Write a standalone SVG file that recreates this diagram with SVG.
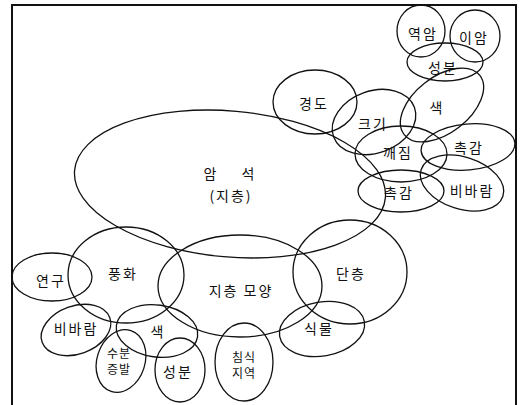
<svg xmlns="http://www.w3.org/2000/svg" width="523" height="405" viewBox="0 0 523 405">
<style>
.n{fill:none;stroke:#111;stroke-width:1.3}
.t{font-family:"Noto Sans CJK KR","Noto Sans",sans-serif;font-size:14px;fill:#111;text-anchor:middle;dominant-baseline:central;letter-spacing:2px}
.s{font-size:12px;letter-spacing:1px}
</style>
<rect width="523" height="405" fill="#fff"/>
<path d="M12,405 V5 H516 V405" fill="none" stroke="#111" stroke-width="2"/>
<g id="connectors"></g>
<g id="rock"><ellipse class="n" cx="230" cy="184" rx="156" ry="73" transform="rotate(5 230 184)"/><text class="t" x="211" y="173">암</text><text class="t" x="249" y="173">석</text><text class="t" x="231" y="195">(지층)</text></g>
<g id="hardness"><ellipse class="n" cx="315" cy="102" rx="42" ry="32"/><text class="t" x="314" y="103">경도</text></g>
<g id="size"><ellipse class="n" cx="374" cy="122" rx="43" ry="31" transform="rotate(-20 374 122)"/><text class="t" x="373" y="123">크기</text></g>
<g id="color1"><ellipse class="n" cx="442" cy="105" rx="48" ry="28" transform="rotate(-38 442 105)"/><text class="t" x="437" y="107">색</text></g>
<g id="comp1"><ellipse class="n" cx="445" cy="62" rx="38" ry="19"/><text class="t" x="443" y="67">성분</text></g>
<g id="conglomerate"><ellipse class="n" cx="421" cy="31" rx="24" ry="26"/><text class="t" x="423" y="33">역암</text></g>
<g id="mudstone"><ellipse class="n" cx="475" cy="36" rx="25" ry="26"/><text class="t" x="474" y="37">이암</text></g>
<g id="fracture"><ellipse class="n" cx="401" cy="154" rx="46" ry="28"/><text class="t" x="398" y="152">깨짐</text></g>
<g id="touch1"><ellipse class="n" cx="468" cy="147" rx="47" ry="23" transform="rotate(-5 468 147)"/><text class="t" x="469" y="147">촉감</text></g>
<g id="wind1"><ellipse class="n" cx="462" cy="183" rx="43" ry="26" transform="rotate(18 462 183)"/><text class="t" x="472" y="190">비바람</text></g>
<g id="touch2"><ellipse class="n" cx="401" cy="191" rx="43" ry="21"/><text class="t" x="399" y="192">촉감</text></g>
<g id="weathering"><ellipse class="n" cx="126" cy="275" rx="58" ry="48"/><text class="t" x="123" y="273">풍화</text></g>
<g id="strata"><ellipse class="n" cx="240" cy="286" rx="82" ry="51"/><text class="t" x="241" y="290">지층 모양</text></g>
<g id="fault"><ellipse class="n" cx="350" cy="272" rx="57" ry="52"/><text class="t" x="351" y="273">단층</text></g>
<g id="plant"><ellipse class="n" cx="322" cy="329" rx="43" ry="27" transform="rotate(-10 322 329)"/><text class="t" x="319" y="328">식물</text></g>
<g id="study"><ellipse class="n" cx="52" cy="277" rx="40" ry="24"/><text class="t" x="51" y="280">연구</text></g>
<g id="wind2"><ellipse class="n" cx="76" cy="330" rx="36" ry="24" transform="rotate(-20 76 330)"/><text class="t" x="76" y="328">비바람</text></g>
<g id="color2"><ellipse class="n" cx="157" cy="331" rx="41" ry="26" transform="rotate(8 157 331)"/><text class="t" x="158" y="331">색</text></g>
<g id="evap"><ellipse class="n" cx="121" cy="361" rx="24" ry="32" transform="rotate(18 121 361)"/><text class="t s" x="119" y="352">수분</text><text class="t s" x="119" y="368">증발</text></g>
<g id="comp2"><ellipse class="n" cx="180" cy="370" rx="25" ry="32"/><text class="t" x="178" y="371">성분</text></g>
<g id="erosion"><ellipse class="n" cx="244" cy="362" rx="29" ry="39"/><text class="t s" x="244" y="356">침식</text><text class="t s" x="244" y="372">지역</text></g>
</svg>
